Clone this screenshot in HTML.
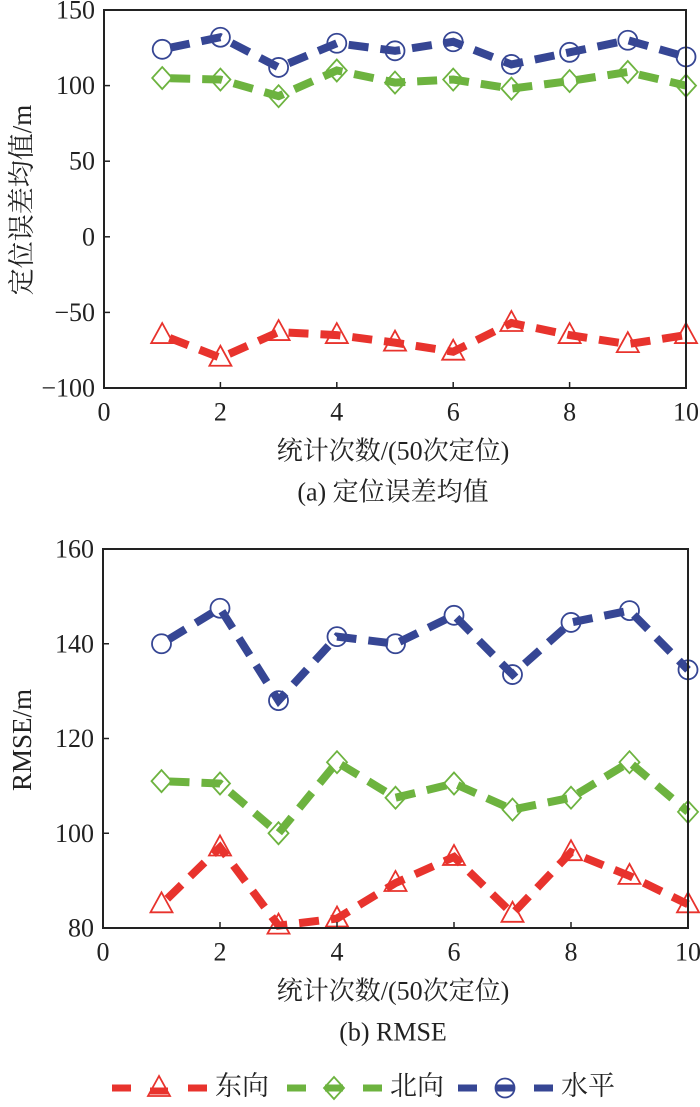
<!DOCTYPE html>
<html><head><meta charset="utf-8"><style>
body{margin:0;background:#fff}
svg text{font-family:"Liberation Serif","Noto Serif CJK SC",serif;fill:#222}
</style></head><body>
<svg id="s" width="700" height="1102" xmlns="http://www.w3.org/2000/svg"></svg>
<script>
const xs=[1,2,3,4,5,6,7,8,9,10];
const eastMean=[-65,-80,-63,-65,-70,-76,-57,-65,-71,-65];
const northMean=[105,104,93,110,102,104,98,103,109,100];
const horizMean=[124,132,112,128,123,129,114,122,130,119];
const eastRmse=[85,97,80.5,82,89.5,95,83,96,91,85];
const northRmse=[111,110.5,100,115,107.5,110.5,105,107.5,115,104.5];
const horizRmse=[140,147.5,128,141.5,140,146,133.5,144.5,147,134.5];
const xTicks=[0,2,4,6,8,10];
const yTicksA=[-100,-50,0,50,100,150];
const yTicksB=[80,100,120,140,160];
const NS='http://www.w3.org/2000/svg';
const svg=document.getElementById('s');
const C={e:'#e8332d',n:'#6db33f',h:'#364694'};
function mk(t,a,p){const e=document.createElementNS(NS,t);for(const k in a)e.setAttribute(k,a[k]);(p||svg).appendChild(e);return e;}
function txt(x,y,s,size,anchor,p){const t=mk('text',{x:x,y:y,'font-size':size,'text-anchor':anchor||'middle','dominant-baseline':'central'},p);t.textContent=s;return t;}
function marker(type,x,y,col,g){
 if(type==='t'){const m=mk('polygon',{points:`${x},${y-12} ${x-11},${y+8} ${x+11},${y+8}`,fill:'none',stroke:col,'stroke-width':1.8},g);}
 else if(type==='d'){const m=mk('polygon',{points:`${x},${y-11} ${x+10},${y} ${x},${y+11} ${x-10},${y}`,fill:'none',stroke:col,'stroke-width':1.8},g);}
 else {const m=mk('circle',{cx:x,cy:y,r:9.5,fill:'none',stroke:col,'stroke-width':1.8},g);}
}
function chart(name,X0,X1,Y0,Y1,ymin,ymax,yTicks,series,ylab,ylabX,ylabY,cap){
 const g=mk('g',{});
 
 
 const sx=v=>X0+(v-0)/(10-0)*(X1-X0);
 const sy=v=>Y1-(v-ymin)/(ymax-ymin)*(Y1-Y0);
 series.forEach(s=>{
  const sg=mk('g',{},g);
  
  
  const pts=xs.map((x,i)=>sx(x)+','+sy(s.v[i])).join(' ');
  const l=mk('polyline',{points:pts,fill:'none',stroke:s.c,'stroke-width':8,'stroke-dasharray':'20 12','stroke-dashoffset':'-8'},sg);
  
  
  xs.forEach((x,i)=>marker(s.m,sx(x),sy(s.v[i]),s.c,sg));
 });
 const fr=mk('rect',{x:X0,y:Y0,width:X1-X0,height:Y1-Y0,fill:'none',stroke:'#222','stroke-width':2},g);
 
 
 xTicks.forEach(v=>{mk('line',{x1:sx(v),x2:sx(v),y1:Y1,y2:Y1-6,stroke:'#222','stroke-width':1.5},g);
  const t=txt(sx(v),Y1+24,String(v),26,'middle',g);});
 yTicks.forEach(v=>{mk('line',{x1:X0,x2:X0+6,y1:sy(v),y2:sy(v),stroke:'#222','stroke-width':1.5},g);
  const t=txt(X0-9,sy(v),String(v).replace('-','\u2212'),26,'end',g);});
 const xt=txt(393,Y1+63,'统计次数/(50次定位)',26,'middle',g);
 
 const yt=txt(ylabX,ylabY,ylab,27,'middle',g);yt.setAttribute('transform',`rotate(-90 ${ylabX} ${ylabY})`);
 
 const cp=txt(393,Y1+104,cap,26,'middle',g);
 
}
chart('chart-mean-error',104,686,10,388,-100,150,yTicksA,[
 {name:'east-series',v:eastMean,c:C.e,m:'t'},{name:'north-series',v:northMean,c:C.n,m:'d'},{name:'horizontal-series',v:horizMean,c:C.h,m:'c'}],
 '定位误差均值/m',22,200,'(a) 定位误差均值');
chart('chart-rmse',103,688,549,928,80,160,yTicksB,[
 {name:'east-series',v:eastRmse,c:C.e,m:'t'},{name:'north-series',v:northRmse,c:C.n,m:'d'},{name:'horizontal-series',v:horizRmse,c:C.h,m:'c'}],
 'RMSE/m',22,740,'(b) RMSE');
const lg=mk('g',{});


[{x:112,c:C.e,m:'t',l:'东向'},{x:287,c:C.n,m:'d',l:'北向'},{x:458,c:C.h,m:'c',l:'水平'}].forEach(it=>{
 const eg=mk('g',{},lg);
 
 
 const y=1088;
 mk('line',{x1:it.x,x2:it.x+19,y1:y,y2:y,stroke:it.c,'stroke-width':7},eg);
 mk('line',{x1:it.x+38,x2:it.x+56,y1:y+(it.m==='t'?3:0),y2:y+(it.m==='t'?3:0),stroke:it.c,'stroke-width':7},eg);
 mk('line',{x1:it.x+76,x2:it.x+95,y1:y,y2:y,stroke:it.c,'stroke-width':7},eg);
 marker(it.m,it.x+47,y,it.c,eg);
 txt(it.x+103,y-2,it.l,27,'start',eg);
});
</script>
</body></html>
